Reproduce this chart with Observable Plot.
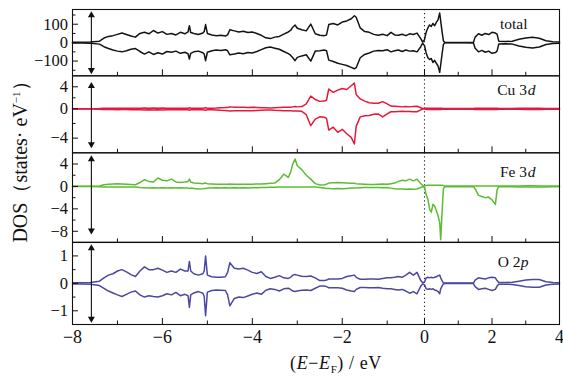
<!DOCTYPE html>
<html>
<head>
<meta charset="utf-8">
<script src="https://cdn.jsdelivr.net/npm/d3@7"></script>
<script src="https://cdn.jsdelivr.net/npm/@observablehq/plot@0.6"></script>
<style>
  body { margin: 0; background: #fff; }
  #chart { position: relative; width: 563px; height: 380px; overflow: hidden; font-family: "Liberation Serif", serif; color: #111; }
  #chart svg { position: absolute; left: 0; top: 0; }
  .xt { position: absolute; left: 336px; top: 363px; transform: translate(-50%, -50%); font-size: 18px; line-height: 20px; white-space: nowrap; letter-spacing: 0.6px; }
  .xt sub { font-size: 11px; vertical-align: -4px; line-height: 0; }
  .yt { position: absolute; left: 20px; top: 157px; transform: translate(-50%, -50%) rotate(-90deg); font-size: 20px; white-space: nowrap; }
  .yt sup { font-size: 11px; vertical-align: 7px; line-height: 0; }
</style>
</head>
<body>
<div id="chart">
  <div class="yt">DOS（states· eV<sup>−1</sup>）</div>
  <div class="xt">(<i>E</i>−<i>E</i><sub>F</sub>) / eV</div>
</div>
<script>
// Energy grid (eV)
const energy = [
  -8.0, -7.8, -7.6, -7.4, -7.3, -7.2, -7.1, -7.0, -6.9, -6.8,
  -6.7, -6.6, -6.5, -6.4, -6.3, -6.2, -6.1, -6.0, -5.9, -5.8,
  -5.7, -5.6, -5.5, -5.43, -5.4, -5.37, -5.3, -5.2, -5.1, -5.07,
  -5.04, -5.0, -4.9, -4.8, -4.7, -4.6, -4.55, -4.5, -4.4, -4.3,
  -4.2, -4.1, -4.0, -3.9, -3.8, -3.7, -3.6, -3.5, -3.4, -3.3,
  -3.2, -3.15, -3.1, -3.05, -3.0, -2.9, -2.8, -2.7, -2.6, -2.5,
  -2.4, -2.35, -2.3, -2.2, -2.1, -2.0, -1.9, -1.8, -1.73, -1.69,
  -1.6, -1.5, -1.4, -1.3, -1.2, -1.1, -1.0, -0.9, -0.8, -0.7,
  -0.6, -0.5, -0.4, -0.3, -0.2, -0.1, -0.05, 0.0, 0.05, 0.1,
  0.15, 0.2, 0.25, 0.3, 0.35, 0.4, 0.45, 0.48, 0.52, 0.56,
  0.6, 0.8, 1.0, 1.2, 1.45, 1.5, 1.6, 1.7, 1.8, 1.9,
  2.0, 2.1, 2.15, 2.2, 2.4, 2.6, 2.8, 3.0, 3.2, 3.4,
  3.6, 3.8, 4.0
];

const totalUp = [
  2, 2, 3, 8, 25, 34, 38, 45, 52, 44,
  36, 30, 50, 56, 48, 66, 52, 60, 45, 50,
  42, 56, 48, 58, 92, 55, 50, 44, 52, 60,
  98, 50, 42, 38, 40, 36, 42, 70, 64, 58,
  62, 55, 58, 50, 40, 26, 22, 30, 34, 46,
  58, 66, 84, 96, 78, 70, 64, 101, 48, 40,
  38, 42, 98, 104, 96, 112, 118, 130, 146, 138,
  80, 60, 56, 45, 40, 46, 38, 56, 42, 40,
  46, 38, 48, 44, 52, 22, 3, 16, 58, 80,
  96, 88, 104, 92, 110, 124, 161, 118, 60, 10,
  1, 1, 1, 1, 2, 30, 48, 40, 50, 44,
  56, 52, 46, 8, 6, 8, 18, 25, 29, 24,
  10, 5, 3
];
const totalDown = [
  -2, -2, -3, -8, -22, -32, -40, -46, -50, -44,
  -36, -32, -48, -62, -50, -64, -55, -62, -48, -52,
  -46, -58, -52, -60, -89, -58, -50, -46, -55, -62,
  -98, -52, -44, -40, -42, -38, -44, -66, -62, -56,
  -60, -54, -56, -48, -38, -28, -24, -30, -36, -48,
  -60, -68, -82, -98, -80, -72, -66, -100, -46, -44,
  -40, -44, -95, -102, -112, -118, -124, -134, -142, -136,
  -82, -64, -56, -46, -42, -44, -38, -50, -44, -40,
  -48, -40, -46, -44, -50, -22, -3, -16, -56, -82,
  -92, -86, -108, -96, -112, -126, -161, -120, -62, -10,
  -1, -1, -1, -1, -2, -30, -50, -42, -52, -46,
  -58, -54, -46, -8, -6, -8, -18, -25, -29, -24,
  -10, -5, -3
];

const cuUp = [
  0.02, 0.02, 0.03, 0.05, 0.08, 0.1, 0.1, 0.12, 0.1, 0.1,
  0.12, 0.1, 0.12, 0.15, 0.12, 0.15, 0.12, 0.15, 0.12, 0.12,
  0.1, 0.12, 0.12, 0.12, 0.2, 0.12, 0.12, 0.1, 0.12, 0.15,
  0.2, 0.12, 0.12, 0.15, 0.2, 0.22, 0.25, 0.35, 0.3, 0.28,
  0.3, 0.25, 0.3, 0.25, 0.2, 0.18, 0.15, 0.2, 0.25, 0.3,
  0.3, 0.3, 0.35, 0.4, 0.35, 0.4, 0.9, 2.3, 1.7, 1.35,
  1.4, 1.6, 3.6, 3.0, 3.4, 3.7, 3.5, 4.2, 4.7, 2.6,
  1.8, 1.4, 1.1, 1.0, 1.0, 1.3, 0.9, 0.5, 0.45, 0.4,
  0.35, 0.4, 0.35, 0.4, 0.45, 0.2, 0.05, 0.05, 0.1, 0.1,
  0.08, 0.1, 0.08, 0.1, 0.08, 0.1, 0.12, 0.1, 0.08, 0.05,
  0.05, 0.05, 0.05, 0.05, 0.05, 0.1, 0.12, 0.1, 0.12, 0.1,
  0.12, 0.1, 0.1, 0.05, 0.05, 0.05, 0.08, 0.1, 0.12, 0.1,
  0.06, 0.05, 0.05
];
const cuDown = [
  -0.02, -0.02, -0.03, -0.05, -0.08, -0.1, -0.1, -0.12, -0.1, -0.1,
  -0.12, -0.1, -0.12, -0.15, -0.12, -0.15, -0.12, -0.15, -0.12, -0.12,
  -0.1, -0.12, -0.12, -0.12, -0.2, -0.12, -0.12, -0.1, -0.12, -0.15,
  -0.2, -0.12, -0.12, -0.15, -0.2, -0.22, -0.25, -0.3, -0.28, -0.25,
  -0.28, -0.25, -0.28, -0.22, -0.2, -0.18, -0.15, -0.2, -0.22, -0.25,
  -0.25, -0.25, -0.3, -0.3, -0.3, -0.35, -0.8, -2.3, -1.4, -1.1,
  -1.15, -1.3, -2.9, -2.5, -3.2, -2.8, -3.4, -3.9, -4.8, -2.4,
  -1.1, -0.95, -0.9, -0.75, -0.7, -1.1, -0.7, -0.4, -0.4, -0.36,
  -0.35, -0.38, -0.36, -0.4, -0.4, -0.15, -0.03, -0.03, -0.08, -0.08,
  -0.06, -0.08, -0.06, -0.08, -0.06, -0.08, -0.1, -0.08, -0.06, -0.05,
  -0.05, -0.05, -0.05, -0.05, -0.05, -0.08, -0.1, -0.08, -0.1, -0.08,
  -0.1, -0.08, -0.08, -0.05, -0.05, -0.05, -0.06, -0.08, -0.1, -0.08,
  -0.06, -0.05, -0.05
];

const feUp = [
  0.03, 0.03, 0.05, 0.08, 0.3, 0.4, 0.45, 0.5, 0.45, 0.4,
  0.35, 0.3, 0.7, 1.2, 0.9, 0.8, 1.5, 1.1, 1.0, 1.3,
  0.8, 0.7, 0.8, 0.9, 1.3, 0.8, 0.6, 0.55, 0.5, 0.55,
  0.6, 0.5, 0.45, 0.4, 0.4, 0.4, 0.4, 0.45, 0.4, 0.4,
  0.4, 0.4, 0.4, 0.45, 0.45, 0.5, 0.55, 0.6, 1.2, 2.2,
  1.6, 2.5, 4.0, 4.9, 3.7, 3.0, 2.0, 1.3, 0.5, 0.25,
  0.3, 0.4, 0.6, 0.65, 0.7, 0.65, 0.6, 0.55, 0.55, 0.5,
  0.45, 0.4, 0.35, 0.35, 0.4, 0.45, 0.4, 0.5, 0.6, 0.9,
  1.1, 1.0, 1.3, 1.0, 1.3, 0.5, 0.2, 0.05, 0.2, 0.2,
  0.2, 0.2, 0.2, 0.2, 0.2, 0.2, 0.2, 0.2, 0.2, 0.15,
  0.08, 0.08, 0.08, 0.08, 0.08, 0.08, 0.08, 0.08, 0.08, 0.08,
  0.08, 0.08, 0.08, 0.08, 0.08, 0.08, 0.1, 0.12, 0.12, 0.1,
  0.08, 0.08, 0.08
];
const feDown = [
  -0.03, -0.03, -0.03, -0.05, -0.08, -0.1, -0.1, -0.1, -0.1, -0.1,
  -0.1, -0.1, -0.2, -0.25, -0.3, -0.25, -0.3, -0.25, -0.3, -0.25,
  -0.3, -0.25, -0.3, -0.3, -0.35, -0.3, -0.35, -0.45, -0.4, -0.35,
  -0.35, -0.3, -0.3, -0.25, -0.3, -0.25, -0.3, -0.3, -0.25, -0.3,
  -0.25, -0.3, -0.25, -0.25, -0.2, -0.2, -0.15, -0.15, -0.1, -0.1,
  -0.1, -0.1, -0.1, -0.1, -0.1, -0.1, -0.1, -0.1, -0.12, -0.2,
  -0.3, -0.35, -0.35, -0.4, -0.35, -0.4, -0.35, -0.3, -0.3, -0.3,
  -0.25, -0.2, -0.2, -0.2, -0.2, -0.25, -0.2, -0.3, -0.4, -0.45,
  -0.45, -0.5, -0.45, -0.5, -0.45, -0.2, -0.05, -0.1, -1.5, -2.3,
  -4.0, -4.6, -3.2, -3.5, -4.3, -5.2, -6.4, -9.5, -4.6, -0.4,
  -0.05, -0.05, -0.05, -0.05, -0.05, -0.4, -1.6, -1.8, -2.0, -1.9,
  -2.4, -3.2, -0.6, -0.05, -0.05, -0.05, -0.08, -0.12, -0.12, -0.1,
  -0.08, -0.05, -0.05
];

const oUp = [
  0.02, 0.02, 0.03, 0.08, 0.2, 0.3, 0.35, 0.45, 0.5, 0.42,
  0.32, 0.25, 0.45, 0.6, 0.5, 0.5, 0.55, 0.48, 0.4, 0.45,
  0.4, 0.52, 0.45, 0.45, 0.8, 0.45, 0.35, 0.3, 0.35, 0.45,
  1.0, 0.3, 0.24, 0.22, 0.22, 0.24, 0.4, 0.75, 0.55, 0.52,
  0.55, 0.48, 0.4, 0.36, 0.42, 0.25, 0.18, 0.22, 0.28, 0.2,
  0.18, 0.22, 0.3, 0.32, 0.3, 0.26, 0.25, 0.27, 0.2, 0.1,
  0.1, 0.12, 0.16, 0.16, 0.16, 0.18, 0.25, 0.28, 0.3, 0.22,
  0.15, 0.15, 0.16, 0.16, 0.15, 0.18, 0.2, 0.2, 0.22, 0.25,
  0.22, 0.3, 0.4, 0.3, 0.4, 0.1, 0.02, 0.05, 0.2, 0.22,
  0.2, 0.22, 0.2, 0.22, 0.24, 0.28, 0.3, 0.2, 0.1, 0.02,
  0.01, 0.01, 0.01, 0.01, 0.01, 0.12, 0.2, 0.18, 0.16, 0.2,
  0.22, 0.2, 0.1, 0.03, 0.03, 0.04, 0.08, 0.12, 0.14, 0.14,
  0.06, 0.03, 0.02
];
const oDown = [
  -0.02, -0.02, -0.03, -0.08, -0.18, -0.28, -0.35, -0.42, -0.48, -0.4,
  -0.32, -0.28, -0.42, -0.5, -0.45, -0.48, -0.5, -0.45, -0.38, -0.42,
  -0.33, -0.45, -0.4, -0.45, -0.88, -0.42, -0.35, -0.3, -0.36, -0.48,
  -1.18, -0.32, -0.26, -0.24, -0.25, -0.26, -0.42, -0.82, -0.55, -0.5,
  -0.52, -0.46, -0.4, -0.35, -0.4, -0.25, -0.2, -0.22, -0.28, -0.2,
  -0.18, -0.22, -0.28, -0.3, -0.28, -0.25, -0.24, -0.26, -0.18, -0.1,
  -0.1, -0.12, -0.16, -0.16, -0.16, -0.18, -0.24, -0.28, -0.3, -0.22,
  -0.15, -0.15, -0.16, -0.16, -0.15, -0.18, -0.2, -0.2, -0.22, -0.24,
  -0.22, -0.28, -0.36, -0.3, -0.38, -0.1, -0.02, -0.05, -0.2, -0.22,
  -0.2, -0.22, -0.2, -0.24, -0.26, -0.3, -0.38, -0.2, -0.1, -0.02,
  -0.01, -0.01, -0.01, -0.01, -0.01, -0.12, -0.22, -0.2, -0.18, -0.22,
  -0.26, -0.22, -0.1, -0.03, -0.03, -0.04, -0.08, -0.12, -0.14, -0.14,
  -0.06, -0.03, -0.02
];

// tick values
const xMajorTicks = [-8, -6, -4, -2, 0, 2, 4];
const xMinorTicks = [-7, -5, -3, -1, 1, 3];
const totalMajor = [-100, 0, 100], totalMinor = [-150, -50, 50, 150];
const cuMajor = [-4, 0, 4], cuMinor = [-2, 2];
const feMajor = [-8, -4, 0, 4], feMinor = [-6, -2, 2];
const oMajor = [-1, 0, 1], oMinor = [-0.5, 0.5];

// spin arrows (energy position and extent per panel)
const arrowE = -7.58;
const totalArrow = [160, -160], cuArrow = [4.5, -5.1], feArrow = [5.2, -8.2], oArrow = [1.35, -1.36];

// ---------- drawing ----------
const W = 563, H = 380;
const xDomain = [-8, -1, 0, 4];
const xRange = [72, 386.7, 424, 559];
const fmt = d => (d < 0 ? "\u2212" + Math.abs(d) : String(d));

const panels = [
  {up: totalUp, down: totalDown, color: "#141414", top: 9, bottom: 75.3,
   yDomain: [-180, 180], yRange: [75.3, 9], major: totalMajor, minor: totalMinor, arrow: totalArrow,
   labels: [{t: "total", dx: -32, dy: 14.3}]},
  {up: cuUp, down: cuDown, color: "#e6193b", top: 75.3, bottom: 152.3,
   yDomain: [-6, 0, 6], yRange: [152.3, 108.3, 75.3], major: cuMajor, minor: cuMinor, arrow: cuArrow,
   labels: [{t: "Cu 3", dx: -32.5, dy: 14.7}, {t: "d", dx: -24, dy: 14.7, it: true}]},
  {up: feUp, down: feDown, color: "#5bbd33", top: 152.3, bottom: 242,
   yDomain: [-10, 6], yRange: [242, 152.3], major: feMajor, minor: feMinor, arrow: feArrow,
   labels: [{t: "Fe 3", dx: -32.5, dy: 19.7}, {t: "d", dx: -24, dy: 19.7, it: true}]},
  {up: oUp, down: oDown, color: "#4c489f", top: 241.7, bottom: 324,
   yDomain: [-1.5, 1.5], yRange: [324, 241.7], major: oMajor, minor: oMinor, arrow: oArrow,
   labels: [{t: "O 2", dx: -39, dy: 20}, {t: "p", dx: -31, dy: 20, it: true}]}
];

const chart = document.getElementById("chart");
panels.forEach((p, k) => {
  const last = k === panels.length - 1;
  const rows = energy.map((e, i) => ({e, up: p.up[i], down: p.down[i]}));
  const arrows = [{e: arrowE, y1: 0, y2: p.arrow[0]}, {e: arrowE, y1: 0, y2: p.arrow[1]}];
  const svg = Plot.plot({
    width: W, height: H,
    marginLeft: 72, marginRight: W - 559, marginTop: p.top, marginBottom: H - p.bottom,
    x: {type: "linear", domain: xDomain, range: xRange},
    y: {type: "linear", domain: p.yDomain, range: p.yRange},
    style: {background: "transparent", fontFamily: "'Liberation Serif', serif", fontSize: "18px", color: "#111", overflow: "visible"},
    marks: [
      Plot.ruleX([0], {stroke: "#222", strokeWidth: 1.1, strokeDasharray: "1.2,2.8"}),
      Plot.line(rows, {x: "e", y: "up", stroke: p.color, strokeWidth: 1.5}),
      Plot.line(rows, {x: "e", y: "down", stroke: p.color, strokeWidth: 1.5}),
      Plot.link(arrows, {x1: "e", x2: "e", y1: "y1", y2: "y2", stroke: "#111", strokeWidth: 1.1}),
      Plot.dot([arrows[0]], {x: "e", y: "y2", symbol: "triangle", r: 2.6, fill: "#111", dy: 2}),
      Plot.dot([arrows[1]], {x: "e", y: "y2", symbol: "triangle", r: 2.6, fill: "#111", rotate: 180, dy: -2}),
      Plot.axisY(p.major, {anchor: "left", tickSize: -6, tickPadding: 10.5, tickFormat: fmt, label: null, fontSize: 16.5}),
      Plot.axisY(p.minor, {anchor: "left", tickSize: -3.5, fill: "none", label: null}),
      Plot.axisX(xMajorTicks, {anchor: "bottom", tickSize: -6, tickPadding: 12, tickFormat: fmt, label: null, fill: last ? "#111" : "none"}),
      Plot.axisX(xMinorTicks, {anchor: "bottom", tickSize: -3.5, fill: "none", label: null}),
      Plot.frame({stroke: "#111", strokeWidth: 1.1}),
      ...p.labels.map(l => Plot.text([l.t], {text: d => d, frameAnchor: "top-right", dx: l.dx, dy: l.dy,
        textAnchor: "end", lineAnchor: "middle", fontSize: 15.5, fontStyle: l.it ? "italic" : "normal", fill: "#111"}))
    ]
  });
  chart.appendChild(svg);
});
</script>
</body>
</html>
